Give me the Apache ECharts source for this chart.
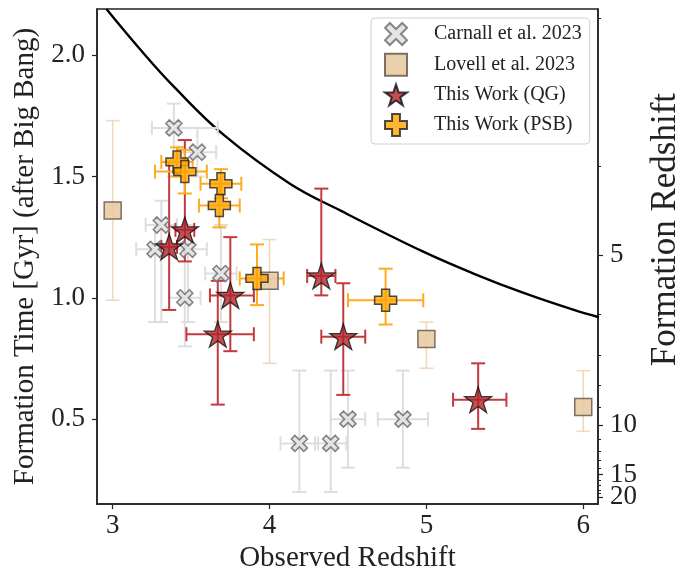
<!DOCTYPE html>
<html>
<head>
<meta charset="utf-8">
<script src="https://cdn.jsdelivr.net/npm/echarts@6/dist/echarts.min.js"></script>
<style>
  html, body { margin: 0; padding: 0; background: #fff; }
  #chart { width: 694px; height: 578px; }
</style>
</head>
<body>
<div id="chart"></div>
<script>
// Carnall et al. 2023
var carnallZ = [3.39, 3.54, 3.31, 3.27, 3.48, 3.69, 3.46, 4.19, 4.39, 4.50, 4.85];
var carnallT = [1.70, 1.60, 1.30, 1.20, 1.20, 1.10, 1.00, 0.40, 0.40, 0.50, 0.50];
var carnallZLo = [0.14, 0.12, 0.10, 0.12, 0.12, 0.10, 0.10, 0.12, 0.10, 0.11, 0.16];
var carnallZHi = [0.28, 0.12, 0.10, 0.12, 0.12, 0.10, 0.10, 0.12, 0.10, 0.11, 0.16];
var carnallTLo = [0.20, 0.10, 0.40, 0.30, 0.30, 0.20, 0.20, 0.20, 0.20, 0.20, 0.20];
var carnallTHi = [0.10, 0.10, 0.10, 0.10, 0.10, 0.20, 0.20, 0.30, 0.30, 0.20, 0.20];

// Lovell et al. 2023
var lovellZ = [3, 4, 5, 6];
var lovellT = [1.36, 1.07, 0.83, 0.55];
var lovellTLo = [0.37, 0.34, 0.12, 0.10];
var lovellTHi = [0.37, 0.17, 0.07, 0.15];

// This Work (QG)
var qgZ = [3.36, 3.46, 3.75, 3.67, 4.33, 4.47, 5.33];
var qgT = [1.21, 1.28, 1.01, 0.85, 1.09, 0.84, 0.58];
var qgZLo = [0.05, 0.06, 0.13, 0.20, 0.09, 0.14, 0.16];
var qgZHi = [0.05, 0.06, 0.15, 0.23, 0.09, 0.14, 0.18];
var qgTLo = [0.26, 0.13, 0.23, 0.29, 0.08, 0.24, 0.12];
var qgTHi = [0.35, 0.37, 0.24, 0.22, 0.36, 0.22, 0.15];

// This Work (PSB)
var psbZ = [3.41, 3.46, 3.69, 3.68, 3.92, 4.74];
var psbT = [1.56, 1.52, 1.47, 1.38, 1.08, 0.99];
var psbZLo = [0.10, 0.19, 0.13, 0.13, 0.11, 0.24];
var psbZHi = [0.10, 0.14, 0.13, 0.13, 0.17, 0.24];
var psbTLo = [0.06, 0.09, 0.06, 0.09, 0.11, 0.10];
var psbTHi = [0.06, 0.09, 0.06, 0.09, 0.14, 0.13];

// age of the universe at the observed redshift (black curve)
var curveZ = [2.96, 3.18, 3.39, 3.71, 4.13, 4.45, 4.98, 5.30, 5.62, 5.94, 6.10];
var curveT = [2.19, 2.02, 1.87, 1.67, 1.47, 1.36, 1.19, 1.10, 1.02, 0.95, 0.92];

// tick labels
var zTicks = [3, 4, 5, 6];
var tTicks = [0.5, 1.0, 1.5, 2.0];
var formZLabels = [5, 10, 15, 20];
var formZLabelAges = [1.176, 0.475, 0.271, 0.180];
var formZMinorAges = [2.152, 1.544, 1.176, 0.934, 0.765, 0.641, 0.547, 0.475, 0.416,
  0.369, 0.330, 0.298, 0.271, 0.247, 0.227, 0.209, 0.194, 0.180];

var serif = "'Liberation Serif', 'DejaVu Serif', serif";
var STAR = 'path://M50 0 L61.23 34.55 L97.55 34.55 L68.17 55.9 L79.39 90.45 L50 69.1 L20.61 90.45 L31.83 55.9 L2.45 34.55 L38.77 34.55 Z';
var PLUS = 'path://M32 0 H68 V32 H100 V68 H68 V100 H32 V68 H0 V32 H32 Z';
var CROSS = 'path://M0 22 L22 0 L50 28 L78 0 L100 22 L72 50 L100 78 L78 100 L50 72 L22 100 L0 78 L28 50 Z';

function errRows(z, t, zlo, zhi, tlo, thi) {
  return z.map(function (v, i) {
    var a = zlo ? zlo[i] : 0, b = zhi ? zhi[i] : 0;
    return [v, t[i], v - a, v + b, t[i] - tlo[i], t[i] + thi[i]];
  });
}

function errorBars(name, rows, color, width, cap) {
  return {
    name: name,
    type: 'custom',
    silent: true,
    data: rows,
    renderItem: function (params, api) {
      var x = api.value(0), y = api.value(1);
      var style = { stroke: color, lineWidth: width, fill: null };
      var kids = [];
      var seg = function (p, q) {
        kids.push({ type: 'line', shape: { x1: p[0], y1: p[1], x2: q[0], y2: q[1] }, style: style });
      };
      if (api.value(3) > api.value(2)) {
        var l = api.coord([api.value(2), y]), r = api.coord([api.value(3), y]);
        seg(l, r);
        seg([l[0], l[1] - cap], [l[0], l[1] + cap]);
        seg([r[0], r[1] - cap], [r[0], r[1] + cap]);
      }
      var lo = api.coord([x, api.value(4)]), hi = api.coord([x, api.value(5)]);
      seg(lo, hi);
      seg([lo[0] - cap, lo[1]], [lo[0] + cap, lo[1]]);
      seg([hi[0] - cap, hi[1]], [hi[0] + cap, hi[1]]);
      return { type: 'group', children: kids };
    }
  };
}

function pairs(z, t) {
  return z.map(function (v, i) { return [v, t[i]]; });
}

function formZFormatter(v) {
  for (var i = 0; i < formZLabelAges.length; i++) {
    if (Math.abs(formZLabelAges[i] - v) < 1e-6) return String(formZLabels[i]);
  }
  return '';
}

var tickLabel = { fontFamily: serif, fontSize: 27, color: '#222', hideOverlap: false };

var chart = echarts.init(document.getElementById('chart'));
var option = {
  animation: false,
  grid: { left: 97, right: 96, top: 9, bottom: 73, show: true, borderColor: '#222', borderWidth: 1.5 },
  legend: {
    orient: 'vertical',
    left: 371,
    top: 18,
    padding: [4, 8, 7, 13],
    itemWidth: 22,
    itemHeight: 22,
    itemGap: 6.7,
    selectedMode: false,
    borderColor: '#d0d0d0',
    borderWidth: 1,
    borderRadius: 4,
    backgroundColor: '#fff',
    textStyle: { fontFamily: serif, fontSize: 20, color: '#222', padding: [0, 0, 0, 22] },
    data: ['Carnall et al. 2023', 'Lovell et al. 2023', 'This Work (QG)', 'This Work (PSB)']
  },
  xAxis: {
    type: 'value',
    min: 2.9,
    max: 6.094,
    name: 'Observed Redshift',
    nameLocation: 'middle',
    nameGap: 37,
    nameTextStyle: { fontFamily: serif, fontSize: 29, color: '#222' },
    axisLine: { show: true, lineStyle: { color: '#222', width: 1.5 } },
    axisTick: { show: true, length: 5, customValues: zTicks, lineStyle: { color: '#222', width: 1.2 } },
    axisLabel: Object.assign({ customValues: zTicks, margin: 8 }, tickLabel),
    splitLine: { show: false }
  },
  yAxis: [{
    type: 'value',
    min: 0.15,
    max: 2.19,
    name: 'Formation Time [Gyr] (after Big Bang)',
    nameLocation: 'middle',
    nameGap: 55,
    nameTextStyle: { fontFamily: serif, fontSize: 29, color: '#222' },
    axisLine: { show: true, lineStyle: { color: '#222', width: 1.5 } },
    axisTick: { show: true, length: 5, customValues: tTicks, lineStyle: { color: '#222', width: 1.2 } },
    axisLabel: Object.assign({
      customValues: tTicks, margin: 12,
      formatter: function (v) { return v.toFixed(1); }
    }, tickLabel),
    splitLine: { show: false }
  }, {
    type: 'value',
    position: 'right',
    min: 0.15,
    max: 2.19,
    name: 'Formation Redshift',
    nameLocation: 'middle',
    nameGap: 40,
    nameTextStyle: { fontFamily: serif, fontSize: 35, color: '#222', padding: [0, 0, 0, 54] },
    axisLine: { show: true, lineStyle: { color: '#222', width: 1.5 } },
    axisTick: { show: true, length: 5, customValues: formZLabelAges, lineStyle: { color: '#222', width: 1.2 } },
    axisLabel: Object.assign({
      customValues: formZLabelAges.slice(0, 3), margin: 12, formatter: formZFormatter
    }, tickLabel),
    splitLine: { show: false }
  }, {
    type: 'value',
    position: 'right',
    min: 0.15,
    max: 2.19,
    axisLine: { show: false },
    axisTick: { show: true, length: 3, customValues: formZMinorAges, lineStyle: { color: '#222', width: 1 } },
    axisLabel: Object.assign({
      customValues: formZLabelAges.slice(3), margin: 12, formatter: formZFormatter
    }, tickLabel),
    splitLine: { show: false }
  }],
  series: [
    errorBars('carnall-err', errRows(carnallZ, carnallT, carnallZLo, carnallZHi, carnallTLo, carnallTHi), '#dedede', 2, 7),
    {
      name: 'Carnall et al. 2023',
      type: 'scatter',
      data: pairs(carnallZ, carnallT),
      symbol: CROSS,
      symbolSize: 16,
      itemStyle: { color: '#e2e2e2', borderColor: '#777', borderWidth: 1.6, opacity: 0.9 }
    },
    errorBars('lovell-err', errRows(lovellZ, lovellT, null, null, lovellTLo, lovellTHi), '#f0d9bd', 1.6, 7),
    {
      name: 'Lovell et al. 2023',
      type: 'scatter',
      data: pairs(lovellZ, lovellT),
      symbol: 'rect',
      symbolSize: 17,
      itemStyle: { color: '#e9cba5', borderColor: '#6e6256', borderWidth: 1.5, opacity: 0.9 }
    },
    errorBars('qg-err', errRows(qgZ, qgT, qgZLo, qgZHi, qgTLo, qgTHi), '#c23a3e', 2, 7),
    {
      name: 'This Work (QG)',
      type: 'scatter',
      data: pairs(qgZ, qgT),
      symbol: STAR,
      symbolSize: 27,
      symbolKeepAspect: true,
      itemStyle: { color: '#b3242b', borderColor: '#111', borderWidth: 1.3 }
    },
    errorBars('psb-err', errRows(psbZ, psbT, psbZLo, psbZHi, psbTLo, psbTHi), '#ffab1f', 2, 7),
    {
      name: 'This Work (PSB)',
      type: 'scatter',
      data: pairs(psbZ, psbT),
      symbol: PLUS,
      symbolSize: 22,
      itemStyle: { color: '#ffa500', borderColor: '#222', borderWidth: 1.5 }
    },
    {
      name: 'age',
      type: 'line',
      data: pairs(curveZ, curveT),
      smooth: 0.4,
      showSymbol: false,
      lineStyle: { color: '#000', width: 2.4 },
      z: 1
    }
  ]
};
chart.setOption(option);
</script>
</body>
</html>
